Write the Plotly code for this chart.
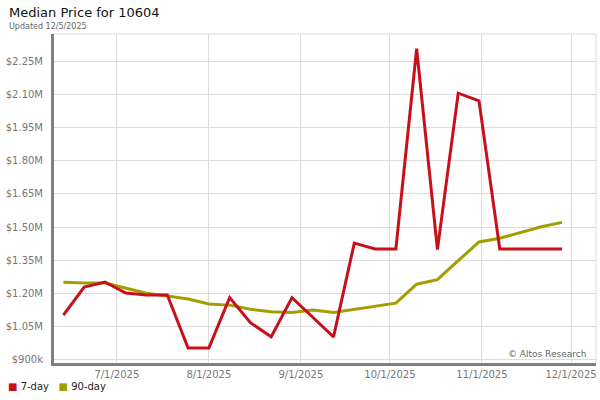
import plotly.graph_objects as go

dates = ["2025-06-13", "2025-06-20", "2025-06-27", "2025-07-04", "2025-07-11", "2025-07-18",
         "2025-07-25", "2025-08-01", "2025-08-08", "2025-08-15", "2025-08-22", "2025-08-29",
         "2025-09-05", "2025-09-12", "2025-09-19", "2025-09-26", "2025-10-03", "2025-10-10",
         "2025-10-17", "2025-10-24", "2025-10-31", "2025-11-07", "2025-11-14", "2025-11-21",
         "2025-11-28"]

price_7day = [1100000, 1227000, 1250000, 1200000, 1191000, 1191000,
              950000, 950000, 1179000, 1065000, 1001000, 1179000,
              1090000, 1001000, 1427000, 1400000, 1400000, 2310000,
              1397000, 2108000, 2073000, 1400000, 1400000, 1400000,
              1400000]

price_90day = [1249000, 1245000, 1245000, 1221000, 1199000, 1186000,
               1173000, 1150000, 1145000, 1126000, 1115000, 1112000,
               1123000, 1112000, 1127000, 1140000, 1154000, 1240000,
               1261000, 1347000, 1432000, 1449000, 1475000, 1501000,
               1521000]

series_names = ["7-day", "90-day"]

y_tickvals = [900000, 1050000, 1200000, 1350000, 1500000, 1650000, 1800000, 1950000, 2100000, 2250000]
y_ticktext = ["$900k", "$1.05M", "$1.20M", "$1.35M", "$1.50M", "$1.65M", "$1.80M", "$1.95M", "$2.10M", "$2.25M"]
x_tickvals = ["2025-07-01", "2025-08-01", "2025-09-01", "2025-10-01", "2025-11-01", "2025-12-01"]
x_ticktext = ["7/1/2025", "8/1/2025", "9/1/2025", "10/1/2025", "11/1/2025", "12/1/2025"]

RED = "#C8101A"
OLIVE = "#A39E00"
FONT = "DejaVu Sans"

fig = go.Figure()
fig.add_trace(go.Scatter(x=dates, y=price_90day, mode="lines", name=series_names[1],
                         line=dict(color=OLIVE, width=3), showlegend=False, hoverinfo="skip"))
fig.add_trace(go.Scatter(x=dates, y=price_7day, mode="lines", name=series_names[0],
                         line=dict(color=RED, width=3), showlegend=False, hoverinfo="skip"))

legend_html = (f"<span style='color:{RED}'>■</span> {series_names[0]}"
               f"&nbsp;&nbsp; <span style='color:{OLIVE}'>■</span> {series_names[1]}")

fig.update_layout(
    width=600, height=400,
    margin=dict(l=54, r=4, t=34, b=37, autoexpand=False),
    paper_bgcolor="white", plot_bgcolor="white",
    font=dict(family=FONT, size=10, color="#777"),
    showlegend=False,
    xaxis=dict(type="date", range=["2025-06-09 20:00", "2025-12-09 10:00"],
               tickvals=x_tickvals, ticktext=x_ticktext,
               showgrid=True, gridcolor="#dcdcdc", gridwidth=1,
               showline=True, linecolor="#808080", linewidth=3,
               ticks="", zeroline=False, tickfont=dict(size=10, color="#777")),
    yaxis=dict(range=[882000, 2377000], tickvals=y_tickvals, ticktext=y_ticktext,
               showgrid=True, gridcolor="#dcdcdc", gridwidth=1,
               showline=True, linecolor="#808080", linewidth=3,
               ticks="", zeroline=False, ticklabelstandoff=6,
               tickfont=dict(size=10, color="#777")),
    shapes=[
        dict(type="line", xref="paper", yref="paper", x0=0, x1=1, y0=1, y1=1,
             line=dict(color="#dcdcdc", width=1)),
        dict(type="line", xref="paper", yref="paper", x0=1, x1=1, y0=0, y1=1,
             line=dict(color="#dcdcdc", width=1)),
    ],
    annotations=[
        dict(text="Median Price for 10604", xref="paper", yref="paper", x=-0.0865, y=1.0365,
             xanchor="left", yanchor="bottom", showarrow=False,
             font=dict(family=FONT, size=13, color="#111")),
        dict(text="Updated 12/5/2025", xref="paper", yref="paper", x=-0.0865, y=1.003,
             xanchor="left", yanchor="bottom", showarrow=False,
             font=dict(family=FONT, size=8, color="#666")),
        dict(text="© Altos Research", xref="paper", yref="paper", x=0.985, y=0.005,
             xanchor="right", yanchor="bottom", showarrow=False,
             font=dict(family=FONT, size=9, color="#666")),
        dict(text=legend_html, xref="paper", yref="paper", x=-0.089, y=-0.072,
             xanchor="left", yanchor="middle", showarrow=False,
             font=dict(family=FONT, size=10, color="#222")),
    ],
)

fig.write_html("out.html", config={"displayModeBar": False},
               post_script="document.body.style.margin='0';")
